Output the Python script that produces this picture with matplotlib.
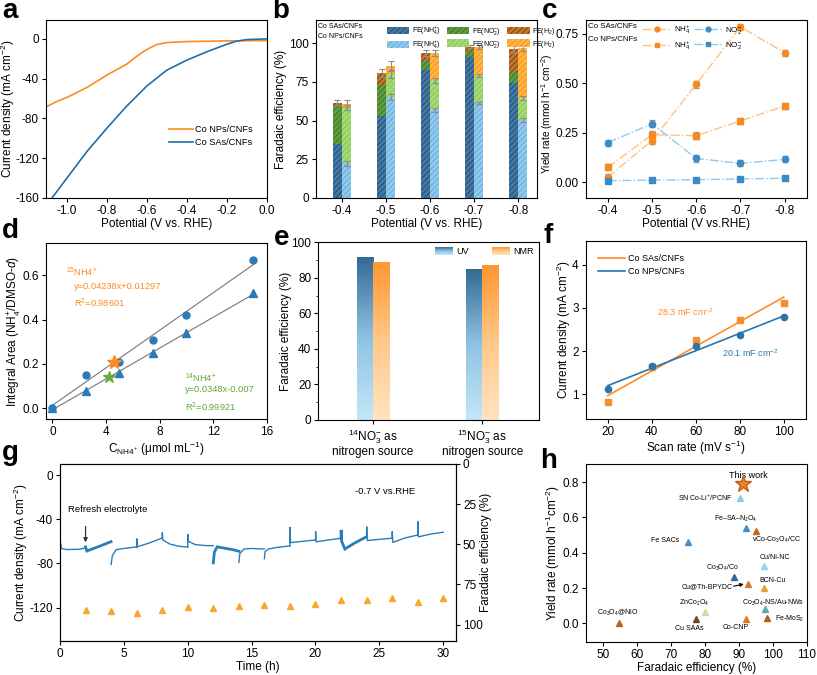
import numpy as np
import matplotlib
matplotlib.use('Agg')
import matplotlib.pyplot as plt
from matplotlib.colors import LinearSegmentedColormap
from matplotlib.patches import Patch
from matplotlib.lines import Line2D
from matplotlib.ticker import AutoMinorLocator, FormatStrFormatter

plt.rcParams.update({
    'font.family': ['Liberation Sans', 'DejaVu Sans'],
    'mathtext.fontset': 'custom',
    'mathtext.rm': 'Liberation Sans',
    'mathtext.it': 'Liberation Sans:italic',
    'mathtext.bf': 'Liberation Sans:bold',
    'axes.unicode_minus': False,
    'font.size': 8.5,
    'axes.linewidth': 0.8,
    'xtick.direction': 'out', 'ytick.direction': 'out',
    'xtick.major.size': 3, 'ytick.major.size': 3,
    'xtick.major.width': 0.8, 'ytick.major.width': 0.8,
    'xtick.major.pad': 2, 'ytick.major.pad': 2,
    'xtick.labelsize': 8.5, 'ytick.labelsize': 8.5,
    'axes.labelsize': 8.5,
    'axes.labelpad': 0.8,
    'hatch.linewidth': 0.7,
})

# ---------------- data ----------------
# a: LSV
a_np_v = [-1.1, -1.05, -1.0, -0.9, -0.8, -0.7, -0.65, -0.6, -0.55, -0.5, -0.4, -0.2, 0.0]
a_np_j = [-68, -63, -59, -49, -36.5, -25.4, -17.5, -10.7, -5.7, -3.7, -2.7, -2.0, -1.7]
a_sa_v = [-1.1, -1.0, -0.9, -0.8, -0.7, -0.6, -0.5, -0.4, -0.3, -0.2, -0.15, -0.1, 0.0]
a_sa_j = [-167, -140.3, -113.5, -90, -67.6, -47.5, -31.5, -21.4, -13, -5.4, -2.3, -0.7, 0.0]

# b: FE stacked bars
b_pot = ['-0.4', '-0.5', '-0.6', '-0.7', '-0.8']
b_sa_nh4 = [35.2, 53.2, 82.4, 91.4, 74.5]
b_sa_no2 = [24.0, 19.5, 6.4, 3.4, 6.8]
b_sa_h2 = [2.4, 8.0, 4.8, 3.0, 14.8]
b_np_nh4 = [22.3, 65.2, 57.0, 61.4, 50.2]
b_np_no2 = [36.1, 14.6, 19.0, 17.6, 14.4]
b_np_h2 = [2.6, 5.6, 17.8, 18.4, 32.2]
b_sa_err = [1.5, 2.5, 1.8, 0.8, 2.2]
b_np_err = [2.0, 2.8, 2.0, 1.2, 1.8]

# c: yield rates
c_pot = [-0.4, -0.5, -0.6, -0.7, -0.8]
c_sa_nh4 = [0.025, 0.21, 0.495, 0.785, 0.655]
c_np_nh4 = [0.075, 0.24, 0.235, 0.31, 0.385]
c_sa_no2 = [0.20, 0.295, 0.12, 0.095, 0.115]
c_np_no2 = [0.008, 0.010, 0.013, 0.016, 0.020]
c_err = [0.015, 0.018, 0.018, 0.015, 0.015]

# d: calibration
d_conc = [0, 2.5, 5, 7.5, 10, 15]
d_15n = [0, 0.15, 0.21, 0.31, 0.42, 0.67]
d_14n = [0, 0.08, 0.16, 0.25, 0.34, 0.52]
d_fit15 = (0.04238, 0.01297)
d_fit14 = (0.0348, -0.007)
d_star15 = (4.6, 0.207)
d_star14 = (4.2, 0.14)

# e: FE by isotope
e_groups = ['$^{14}$NO$_3^{-}$ as\nnitrogen source', '$^{15}$NO$_3^{-}$ as\nnitrogen source']
e_uv = [91.5, 85.0]
e_nmr = [89.0, 87.0]

# f: Cdl
f_scan = [20, 40, 60, 80, 100]
f_sa = [0.82, 1.63, 2.25, 2.72, 3.12]
f_np = [1.12, 1.65, 2.12, 2.36, 2.78]

# g: stability
g_seg_t = [
    [0.0, 0.12, 0.5, 1.5, 2.0],
    [2.0, 2.1, 2.4, 3.2, 4.0],
    [4.0, 4.1, 4.4, 5.0, 6.0],
    [6.0, 6.01, 6.04, 7.0, 8.0],
    [8.0, 8.01, 8.05, 8.6, 9.3, 10.0],
    [10.0, 10.01, 10.05, 10.6, 11.3, 12.0],
    [12.0, 12.08, 12.3, 13.0, 13.5, 14.0],
    [14.0, 14.08, 14.4, 15.0, 16.0],
    [16.0, 16.05, 16.3, 17.0, 18.0],
    [18.0, 18.01, 18.04, 19.0, 20.0],
    [20.0, 20.01, 20.04, 21.0, 22.0],
    [22.0, 22.01, 22.05, 22.3, 23.0, 24.0],
    [24.0, 24.01, 24.05, 25.0, 26.0],
    [26.0, 26.01, 26.05, 27.0, 28.0],
    [28.0, 28.01, 28.05, 29.0, 30.0],
]
g_seg_j = [
    [-59, -66.5, -67.5, -67.2, -66],
    [-65, -68.8, -67.5, -64, -60.3],
    [-81, -73, -67.5, -66.5, -65],
    [-65.5, -57.5, -65, -61.5, -57],
    [-57, -52, -58.8, -62.5, -64.5, -65.2],
    [-65.2, -53.4, -60, -63, -63.8, -64],
    [-79.5, -70, -65, -66.5, -67.5, -69],
    [-79, -71, -67, -66.5, -67],
    [-75.7, -69.5, -67, -65.5, -64.2],
    [-64.2, -47, -61.2, -60, -58.8],
    [-58.8, -51, -60.5, -58.8, -57.2],
    [-57.2, -49.7, -60, -67, -62, -55.8],
    [-55.8, -46.7, -59.3, -58.2, -57.2],
    [-57.2, -51, -61, -57, -54.3],
    [-54.3, -42, -56, -53.5, -51.8],
]
g_seg_noisy = [False, True, False, False, False, False, True, False, False, False, False, True, False, False, False]
g_fe_t = [2, 4, 6, 8, 10, 12, 14, 16, 18, 20, 22, 24, 26, 28, 30]
g_fe = [90.6, 91.5, 92.7, 90.6, 89.0, 89.4, 88.4, 87.7, 88.4, 86.9, 84.8, 84.8, 83.2, 85.9, 83.2]

# h: comparison
h_names = ['SN Co-Li$^{+}$/PCNF', 'Fe\u2013SA\u2013N$_2$O$_4$', 'vCo-Co$_3$O$_4$/CC', 'Fe SACs',
           'Cu/Ni-NC', 'Co$_3$O$_4$/Co', 'Cu@Th-BPYDC', 'BCN-Cu', 'Co$_3$O$_4$-NS/Au-NWs',
           'ZnCo$_2$O$_4$', 'Fe-MoS$_2$', 'Co$_3$O$_4$@NiO', 'Cu SAAs', 'Co-CNP']
h_fe = [90.3, 92.0, 95.0, 75.0, 97.3, 88.6, 92.6, 97.3, 97.8, 80.0, 98.2, 54.8, 77.5, 92.0]
h_yr = [0.711, 0.54, 0.52, 0.46, 0.323, 0.26, 0.225, 0.198, 0.08, 0.062, 0.028, 0.004, 0.023, 0.023]
h_colors = ['#86cdee', '#3f8fc4', '#c8661e', '#4a8cc4', '#8ed6f2', '#2a6aa0', '#d07a30',
            '#e8a030', '#5ab0a8', '#c9dc98', '#b06020', '#b8651e', '#6b4a2a', '#e07a20']
h_this = (91.3, 0.79)

# ---------------- figure ----------------
fig = plt.figure(figsize=(8.17, 6.75), dpi=100)
W, H = 817, 675


def add_ax(l, r, t, b):
    return fig.add_axes([l / W, 1 - b / H, (r - l) / W, (b - t) / H])


def letter(x, y, s):
    fig.text(x / W, 1 - y / H, s, fontsize=20, fontweight='bold', va='baseline', ha='left')


ORANGE = '#ff8a1f'
BLUE = '#1f6fa8'

# ---- a ----
ax = add_ax(45.7, 266.7, 20, 198)
ax.plot(a_np_v, a_np_j, color=ORANGE, lw=1.2, label='Co NPs/CNFs')
ax.plot(a_sa_v, a_sa_j, color=BLUE, lw=1.2, label='Co SAs/CNFs')
ax.set_xlim(-1.105, 0.0)
ax.set_ylim(-160, 19)
ax.set_xticks([-1.0, -0.8, -0.6, -0.4, -0.2, 0.0])
ax.xaxis.set_major_formatter(FormatStrFormatter('%.1f'))
ax.set_yticks([0, -40, -80, -120, -160])
ax.set_xlabel('Potential (V vs. RHE)')
ax.set_ylabel('Current density (mA cm$^{-2}$)')
ax.yaxis.set_label_coords(-0.128, 0.5)
ax.legend(loc='upper left', bbox_to_anchor=(0.54, 0.43), frameon=False, fontsize=6.6,
          handlelength=2.6, handletextpad=0.3, labelspacing=0.45, borderaxespad=0)
letter(2, 18, 'a')

# ---- b ----
ax = add_ax(315.7, 536.7, 20, 198)
x = np.arange(len(b_pot))
w = 0.21
sty = {
    'sa_nh4': ('#4479a3', '#244d70'), 'np_nh4': ('#91c9ec', '#64acdb'),
    'sa_no2': ('#5e9c40', '#3c7426'), 'np_no2': ('#a6da76', '#84c652'),
    'sa_h2': ('#c4772c', '#7e4210'), 'np_h2': ('#ffb446', '#f59618'),
}


def hbar(xp, h, bottom, key):
    fc, hc = sty[key]
    ax.bar(xp, h, w, bottom=bottom, color=fc, edgecolor=hc, hatch='//////', lw=0, zorder=2)


sa_b2 = np.array(b_sa_nh4)
sa_b3 = sa_b2 + np.array(b_sa_no2)
np_b2 = np.array(b_np_nh4)
np_b3 = np_b2 + np.array(b_np_no2)
hbar(x - w / 2, b_sa_nh4, 0, 'sa_nh4')
hbar(x - w / 2, b_sa_no2, sa_b2, 'sa_no2')
hbar(x - w / 2, b_sa_h2, sa_b3, 'sa_h2')
hbar(x + w / 2, b_np_nh4, 0, 'np_nh4')
hbar(x + w / 2, b_np_no2, np_b2, 'np_no2')
hbar(x + w / 2, b_np_h2, np_b3, 'np_h2')
ekw = dict(fmt='none', ecolor='#8c8c8c', elinewidth=0.8, capsize=2, capthick=0.8, zorder=3)
ax.errorbar(x - w / 2, sa_b3 + np.array(b_sa_h2), yerr=b_sa_err, **ekw)
ax.errorbar(x + w / 2, np_b3 + np.array(b_np_h2), yerr=b_np_err, **ekw)
ax.errorbar(x + w / 2, np_b3, yerr=np.array(b_np_err) * 0.8, **ekw)
ax.errorbar(x + w / 2, np_b2, yerr=np.array(b_np_err) * 0.7, **ekw)
ax.set_xlim(-0.6, 4.42)
ax.set_ylim(0, 115)
ax.set_xticks(x)
ax.set_xticklabels(b_pot)
ax.set_yticks([0, 25, 50, 75, 100])
ax.set_xlabel('Potential (V vs. RHE)')
ax.set_ylabel('Faradaic efficiency (%)')
ax.yaxis.set_label_coords(-0.13, 0.5)
hnd = []
for k in ['sa_nh4', 'np_nh4', 'sa_no2', 'np_no2', 'sa_h2', 'np_h2']:
    fc, hc = sty[k]
    hnd.append(Patch(facecolor=fc, edgecolor=hc, hatch='//////', lw=0))
labs = ['FE(NH$_4^{+}$)', 'FE(NH$_4^{+}$)', 'FE(NO$_2^{-}$)', 'FE(NO$_2^{-}$)', 'FE(H$_2$)', 'FE(H$_2$)']
ax.legend(hnd, labs, ncol=3, loc='upper left', bbox_to_anchor=(0.3, 1.0), frameon=False,
          fontsize=5.0, handlelength=3.3, handleheight=1.3, handletextpad=0.35, columnspacing=0.9,
          labelspacing=0.25, borderaxespad=0.25)
ax.text(0.012, 0.965, 'Co SAs/CNFs', transform=ax.transAxes, fontsize=5.0, va='center')
ax.text(0.012, 0.91, 'Co NPs/CNFs', transform=ax.transAxes, fontsize=5.0, va='center')
letter(272, 18, 'b')

# ---- c ----
ax = add_ax(585.7, 806.7, 20, 198)
LOR, DOR = '#ffc27e', '#f68a1e'
LBL, DBL = '#93c8e8', '#3a8cc6'
ax.errorbar(c_pot, c_sa_nh4, yerr=c_err, color=LOR, ls='-.', lw=1, marker='o', ms=4.5, mfc=DOR, mec=DOR,
            ecolor='#9a9a9a', elinewidth=0.8, capsize=2, zorder=3)
ax.errorbar(c_pot, c_np_nh4, yerr=c_err, color=LOR, ls='-.', lw=1, marker='s', ms=4.5, mfc=DOR, mec=DOR,
            ecolor='#9a9a9a', elinewidth=0.8, capsize=2, zorder=3)
ax.errorbar(c_pot, c_sa_no2, yerr=c_err, color=LBL, ls='-.', lw=1, marker='o', ms=4.5, mfc=DBL, mec=DBL,
            ecolor='#9a9a9a', elinewidth=0.8, capsize=2, zorder=3)
ax.errorbar(c_pot, c_np_no2, yerr=[0.004] * 5, color=LBL, ls='-.', lw=1, marker='s', ms=4, mfc=DBL, mec=DBL,
            ecolor='#9a9a9a', elinewidth=0.8, capsize=2, zorder=3)
ax.set_xlim(-0.35, -0.85)
ax.set_ylim(-0.08, 0.82)
ax.set_xticks(c_pot)
ax.xaxis.set_major_formatter(FormatStrFormatter('%.1f'))
ax.set_yticks([0.0, 0.25, 0.5, 0.75])
ax.yaxis.set_major_formatter(FormatStrFormatter('%.2f'))
ax.set_xlabel('Potential (V vs.RHE)')
ax.set_ylabel('Yield rate (mmol h$^{-1}$ cm$^{-2}$)', fontsize=7.3)
ax.yaxis.set_label_coords(-0.14, 0.47)
hc = [Line2D([], [], color=LOR, ls='-.', lw=1, marker='o', ms=3.5, mfc=DOR, mec=DOR),
      Line2D([], [], color=LOR, ls='-.', lw=1, marker='s', ms=3.5, mfc=DOR, mec=DOR),
      Line2D([], [], color=LBL, ls='-.', lw=1, marker='o', ms=3.5, mfc=DBL, mec=DBL),
      Line2D([], [], color=LBL, ls='-.', lw=1, marker='s', ms=3.5, mfc=DBL, mec=DBL)]
ax.legend(hc, ['NH$_4^{+}$', 'NH$_4^{+}$', 'NO$_2^{-}$', 'NO$_2^{-}$'], ncol=2, loc='upper left',
          bbox_to_anchor=(0.235, 1.005), frameon=False, fontsize=5.8, handlelength=3.6,
          handletextpad=0.3, columnspacing=0.4, labelspacing=0.45, borderaxespad=0.2)
ax.text(0.01, 0.962, 'Co SAs/CNFs', transform=ax.transAxes, fontsize=5.7, va='center')
ax.text(0.01, 0.893, 'Co NPs/CNFs', transform=ax.transAxes, fontsize=5.7, va='center')
letter(542, 18, 'c')

# ---- d ----
ax = add_ax(45.7, 266.7, 243.3, 419.3)
DB = '#2b7bb9'
xx = np.array([0, 15])
ax.plot(xx, d_fit15[0] * xx + d_fit15[1], color='#777777', lw=0.8, zorder=1)
ax.plot(xx, d_fit14[0] * xx + d_fit14[1], color='#777777', lw=0.8, zorder=1)
ax.plot(d_conc, d_15n, 'o', color=DB, ms=5, zorder=3)
ax.plot(d_conc, d_14n, '^', color=DB, ms=5.5, zorder=3)
ax.plot(*d_star15, '*', color='#ff8a1f', ms=10, zorder=4)
ax.plot(*d_star14, '*', color='#6aaa3a', ms=9, zorder=4)
ax.set_xlim(-0.5, 16)
ax.set_ylim(-0.05, 0.745)
ax.set_xticks([0, 4, 8, 12, 16])
ax.set_yticks([0.0, 0.2, 0.4, 0.6])
ax.yaxis.set_major_formatter(FormatStrFormatter('%.1f'))
ax.set_xlabel('C$_{\\mathrm{NH4}^{+}}$ (\u03bcmol mL$^{-1}$)')
ax.set_ylabel('Integral Area (NH$_4^{+}$/DMSO-$d$)')
ax.yaxis.set_label_coords(-0.103, 0.5)
OR2, GR2 = '#ff8a1f', '#5fa83a'
ax.text(1.0, 0.616, '$^{15}$NH4$^{+}$', color=OR2, fontsize=6.7, va='center')
ax.text(1.6, 0.549, 'y=0.04238x+0.01297', color=OR2, fontsize=6.7, va='center')
ax.text(1.6, 0.474, 'R$^{2}$=0.98601', color=OR2, fontsize=6.7, va='center')
ax.text(9.9, 0.133, '$^{14}$NH4$^{+}$', color=GR2, fontsize=6.7, va='center')
ax.text(9.9, 0.084, 'y=0.0348x-0.007', color=GR2, fontsize=6.7, va='center')
ax.text(9.9, 0.005, 'R$^{2}$=0.99921', color=GR2, fontsize=6.7, va='center')
letter(2, 238, 'd')

# ---- e ----
ax = add_ax(318.3, 539.3, 242.3, 420)
cm_uv = LinearSegmentedColormap.from_list('uv', ['#c4e6f8', '#8fc3e3', '#336a93'])
cm_nmr = LinearSegmentedColormap.from_list('nmr', ['#ffe3c2', '#ffc888', '#ff9632'])
grad = np.linspace(0, 1, 256).reshape(-1, 1)
xe = np.arange(len(e_groups))
bw = 0.15
bars_uv = ax.bar(xe - bw / 2, e_uv, bw, color='none', lw=0)
bars_nmr = ax.bar(xe + bw / 2, e_nmr, bw, color='none', lw=0)
for bars, cm in ((bars_uv, cm_uv), (bars_nmr, cm_nmr)):
    for r in bars:
        x0, y0, ww, hh = r.get_x(), r.get_y(), r.get_width(), r.get_height()
        im = ax.imshow(grad, extent=[x0, x0 + ww, y0, y0 + hh], origin='lower', cmap=cm,
                       aspect='auto', zorder=2)
        im.set_clip_path(r)
for (x0, x1), cm, lab in (((0.528, 0.609), cm_uv, 'UV'), ((0.786, 0.867), cm_nmr, 'NMR')):
    ax.imshow(grad, extent=[x0, x1, 0.928, 0.968], origin='lower', cmap=cm, aspect='auto',
              transform=ax.transAxes, zorder=3)
    ax.text(x1 + 0.015, 0.948, lab, transform=ax.transAxes, fontsize=6.5, va='center')
ax.set_xlim(-0.5, 1.52)
ax.set_ylim(0, 100)
ax.set_xticks(xe)
ax.set_xticklabels(e_groups, fontsize=8.5, linespacing=1.0)
ax.set_yticks([0, 20, 40, 60, 80, 100])
ax.yaxis.set_minor_locator(AutoMinorLocator(2))
ax.tick_params(axis='y', which='minor', length=1.8)
ax.set_ylabel('Faradaic efficiency (%)')
ax.yaxis.set_label_coords(-0.119, 0.5)
letter(274, 245, 'e')

# ---- f ----
ax = add_ax(585.7, 805.7, 240.7, 419)
FO, FB = '#ff8c28', '#2a76ac'
ps = np.polyfit(f_scan, f_sa, 1)
pn = np.polyfit(f_scan, f_np, 1)
xs = np.array([20, 100])
ax.plot(xs, np.polyval(ps, xs), color=FO, lw=1.2, label='Co SAs/CNFs')
ax.plot(xs, np.polyval(pn, xs), color=FB, lw=1.2, label='Co NPs/CNFs')
ax.plot(f_scan, f_sa, 's', color='#f78d2c', ms=4.5, zorder=3)
ax.plot(f_scan, f_np, 'o', color='#2a76ac', ms=4.5, zorder=3)
ax.set_xlim(10, 110)
ax.set_ylim(0.43, 4.55)
ax.set_xticks([20, 40, 60, 80, 100])
ax.set_yticks([1, 2, 3, 4])
ax.set_xlabel('Scan rate (mV s$^{-1}$)')
ax.set_ylabel('Current density (mA cm$^{-2}$)')
ax.yaxis.set_label_coords(-0.058, 0.5)
ax.legend(loc='upper left', bbox_to_anchor=(0.04, 0.945), frameon=False, fontsize=6.5,
          handlelength=3.0, handletextpad=0.3, labelspacing=0.45, borderaxespad=0)
ax.text(42.3, 2.91, '28.3 mF cm$^{-2}$', color=FO, fontsize=6.5, va='center')
ax.text(72.1, 1.95, '20.1 mF cm$^{-2}$', color=FB, fontsize=6.5, va='center')
letter(543, 243, 'f')

# ---- g ----
ax = add_ax(60, 456, 464, 640.7)
for ts, js, nz in zip(g_seg_t, g_seg_j, g_seg_noisy):
    ax.plot(ts, js, color='#2a7db8', lw=2.0 if nz else 1.0, solid_joinstyle='miter')
ax.set_xlim(0, 31)
ax.set_ylim(-150, 10)
ax.set_xticks([0, 5, 10, 15, 20, 25, 30])
ax.set_yticks([0, -40, -80, -120])
ax.set_xlabel('Time (h)')
ax.set_ylabel('Current density (mA cm$^{-2}$)')
ax.yaxis.set_label_coords(-0.076, 0.5)
ax.text(0.65, -30.8, 'Refresh electrolyte', fontsize=6.8, va='center')
ax.annotate('', xy=(2.0, -61), xytext=(2.0, -46.5),
            arrowprops=dict(arrowstyle='-|>', color='#333333', lw=0.9, mutation_scale=6,
                            shrinkA=0, shrinkB=0))
ax.text(23.1, -15, '-0.7 V vs.RHE', fontsize=6.8, va='center')
ax2 = ax.twinx()
ax2.plot(g_fe_t, g_fe, '^', color='#f7a72a', ms=4.5)
ax2.set_ylim(110, 0)
ax2.set_yticks([0, 25, 50, 75, 100])
ax2.set_ylabel('Faradaic efficiency (%)')
ax2.yaxis.set_label_coords(1.06, 0.5)
letter(2, 460, 'g')

# ---- h ----
ax = add_ax(585.7, 806.7, 464, 641.7)
for fe_, yr_, c_ in zip(h_fe, h_yr, h_colors):
    ax.plot(fe_, yr_, '^', color=c_, ms=5, mec=c_)
ax.plot(*h_this, '*', color='#e8822a', mec='#c0601a', ms=12, zorder=4)
ax.text(h_this[0] + 1.5, 0.836, 'This work', fontsize=6.5, ha='center', va='center')
h_lab_xy = [(88.1, 0.711, 'right'), (89.1, 0.59, 'center'), (101, 0.47, 'center'), (68.4, 0.468, 'center'),
            (100.6, 0.374, 'center'), (85.2, 0.315, 'center'), (80.7, 0.208, 'center'),
            (99.9, 0.242, 'center'), (100.1, 0.117, 'center'), (77.0, 0.113, 'center'),
            (104.9, 0.023, 'center'), (54.3, 0.057, 'center'), (75.4, -0.028, 'center'),
            (89.1, -0.023, 'center')]
for name, (lx, ly, ha) in zip(h_names, h_lab_xy):
    ax.text(lx, ly, name, fontsize=5.0, ha=ha, va='center')
ax.annotate('', xy=(91.5, 0.222), xytext=(88.5, 0.21),
            arrowprops=dict(arrowstyle='-|>', color='black', lw=0.8, mutation_scale=5, shrinkA=0, shrinkB=0))
ax.set_xlim(45, 110)
ax.set_ylim(-0.104, 0.902)
ax.set_xticks([50, 60, 70, 80, 90, 100, 110])
ax.set_yticks([0.0, 0.2, 0.4, 0.6, 0.8])
ax.yaxis.set_major_formatter(FormatStrFormatter('%.1f'))
ax.set_xlabel('Faradaic efficiency (%)')
ax.set_ylabel('Yield rate (mmol h$^{-1}$cm$^{-2}$)')
ax.yaxis.set_label_coords(-0.107, 0.5)
letter(540, 468, 'h')

fig.savefig('out.png', dpi=100)
